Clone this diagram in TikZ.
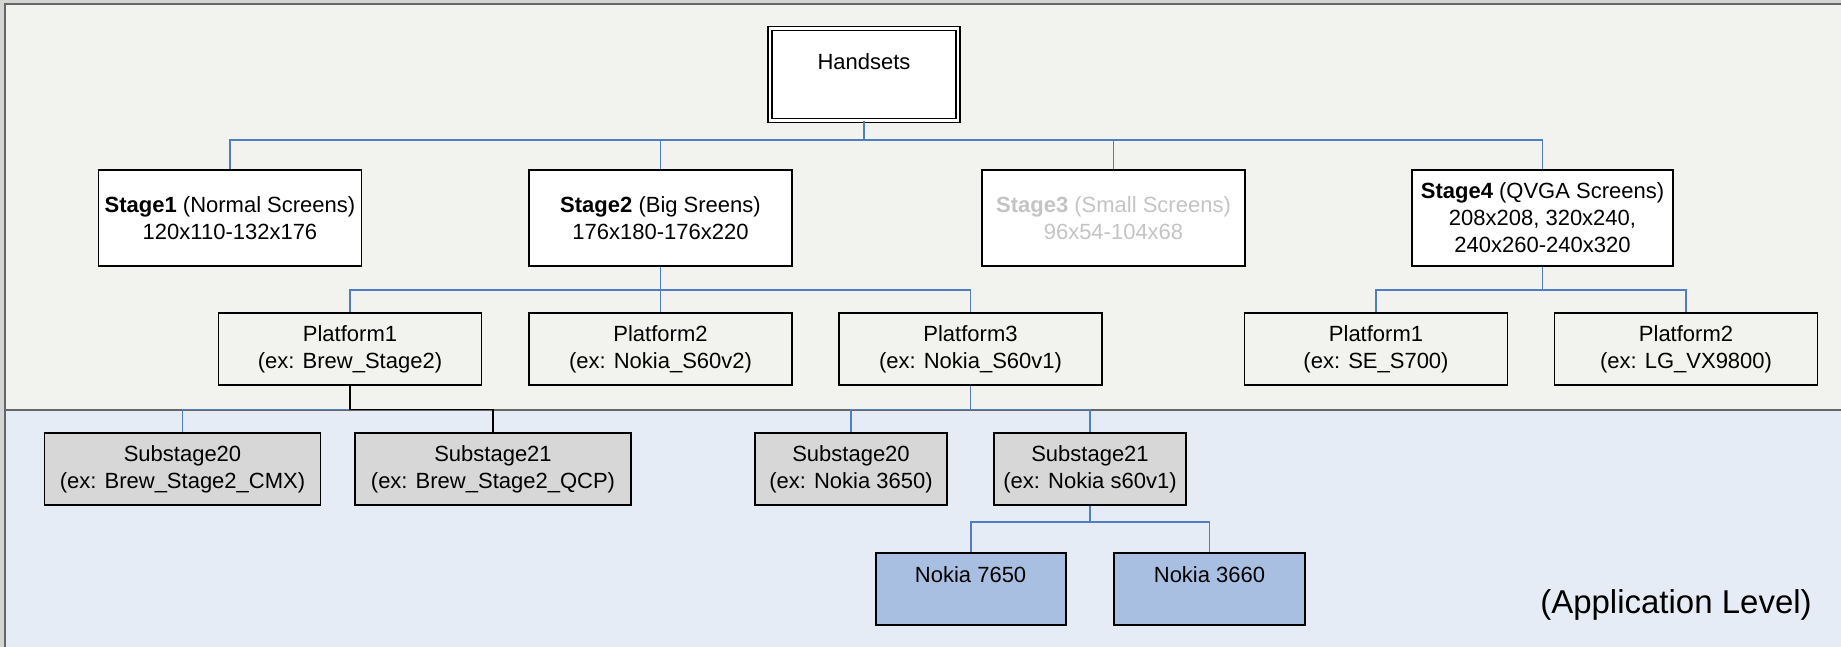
\documentclass[tikz,border=0pt]{standalone}
\usepackage{fontspec}
\setmainfont{Liberation Sans}
\definecolor{outerstrip}{HTML}{D4D4D4}
\definecolor{topbg}{HTML}{F2F3EE}
\definecolor{botbg}{HTML}{E6ECF6}
\definecolor{framec}{HTML}{666666}
\definecolor{busblue}{HTML}{4F7FC0}
\definecolor{subfill}{HTML}{D7D7D7}
\definecolor{nokfill}{HTML}{A9BFE2}
\definecolor{fadetext}{HTML}{C4C4C4}
\tikzset{
  base/.style={draw=black, line width=1.8pt, inner sep=0pt, font=\fontsize{22}{27}\selectfont},
  stagebox/.style={base, align=center, fill=white, minimum width=263pt, minimum height=96pt},
  platbox/.style={base, align=center, fill=topbg, minimum width=263pt, minimum height=72pt},
  subbox/.style={base, align=center, fill=subfill, minimum height=72pt},
  nokbox/.style={base, fill=nokfill, minimum height=72pt, text height=29pt, text depth=43pt},
  handbox/.style={draw=black, line width=1.3pt, double=white, double distance=2.5pt, fill=white, inner sep=0pt,
     font=\fontsize{22}{27}\selectfont, minimum width=188pt, minimum height=92pt, text height=41pt, text depth=51pt},
  bus/.style={draw=busblue, line width=1.8pt},
  blackbus/.style={draw=black, line width=1.8pt},
  frameline/.style={draw=framec, line width=2pt},
}
\begin{document}
\begin{tikzpicture}[x=1pt,y=-1pt]
\useasboundingbox (0,0) rectangle (1841,647);
% backgrounds
\fill[outerstrip] (0,0) rectangle (1841,647);
\fill[topbg] (5,4) rectangle (1841,409.5);
\fill[botbg] (5,409.5) rectangle (1841,647);
\draw[frameline] (5,647) -- (5,4) -- (1841,4);
\draw[frameline] (5,409.5) -- (1841,409.5);

% nodes
\node[handbox] (hand) at (864,74.5) {Handsets};

\node[stagebox] (st1) at (230,218) {\textbf{Stage1} (Normal Screens)\\120x110-132x176};
\node[stagebox] (st2) at (660.5,218) {\textbf{Stage2} (Big Sreens)\\176x180-176x220};
\node[stagebox, text=fadetext] (st3) at (1113.5,218) {\textbf{Stage3} (Small Screens)\\96x54-104x68};
\node[stagebox, minimum width=261pt] (st4) at (1542.5,218) {\textbf{Stage4} (QVGA Screens)\\208x208, 320x240,\\240x260-240x320};

\node[platbox] (p1) at (350,349) {Platform1\\(ex: Brew\_Stage2)};
\node[platbox] (p2) at (660.5,349) {Platform2\\(ex: Nokia\_S60v2)};
\node[platbox] (p3) at (970.5,349) {Platform3\\(ex: Nokia\_S60v1)};
\node[platbox] (p4) at (1376,349) {Platform1\\(ex: SE\_S700)};
\node[platbox] (p5) at (1686,349) {Platform2\\(ex: LG\_VX9800)};

\node[subbox, minimum width=276pt] (s1) at (182.5,469) {Substage20\\(ex: Brew\_Stage2\_CMX)};
\node[subbox, minimum width=276pt] (s2) at (493,469) {Substage21\\(ex: Brew\_Stage2\_QCP)};
\node[subbox, minimum width=192pt] (s3) at (851,469) {Substage20\\(ex: Nokia 3650)};
\node[subbox, minimum width=192pt] (s4) at (1090,469) {Substage21\\(ex: Nokia s60v1)};

\node[nokbox, minimum width=190pt] (n1) at (970.6,589) {Nokia 7650};
\node[nokbox, minimum width=191pt] (n2) at (1209.5,589) {Nokia 3660};

\node[font=\fontsize{33}{38}\selectfont] (applev) at (1676,605) {(Application Level)};

% connectors
\coordinate (hbus) at (0,140);
\draw[bus] (hand.south) -- (hand.south |- hbus);
\draw[bus] (st1.north) |- (st4.north |- hbus) -- (st4.north);
\draw[bus] (st2.north) -- (st2.north |- hbus);
\draw[bus] (st3.north) -- (st3.north |- hbus);

\coordinate (pbus) at (0,290);
\draw[bus] (st2.south) -- (st2.south |- pbus);
\draw[bus] (p1.north) |- (p3.north |- pbus) -- (p3.north);
\draw[bus] (p2.north) -- (p2.north |- pbus);
\draw[bus] (st4.south) -- (st4.south |- pbus);
\draw[bus] (p4.north) |- (p5.north |- pbus) -- (p5.north);

\coordinate (sbus) at (0,409.5);
\draw[bus] (s1.north) |- (p1.south |- sbus);
\draw[blackbus] (p1.south) -- (p1.south |- sbus) -| (s2.north);
\draw[bus] (p3.south) -- (p3.south |- sbus);
\draw[bus] (s3.north) |- (s4.north |- sbus) -- (s4.north);

\coordinate (nbus) at (0,522);
\draw[bus] (s4.south) -- (s4.south |- nbus);
\draw[bus] (n1.north) |- (n2.north |- nbus) -- (n2.north);
\end{tikzpicture}
\end{document}
